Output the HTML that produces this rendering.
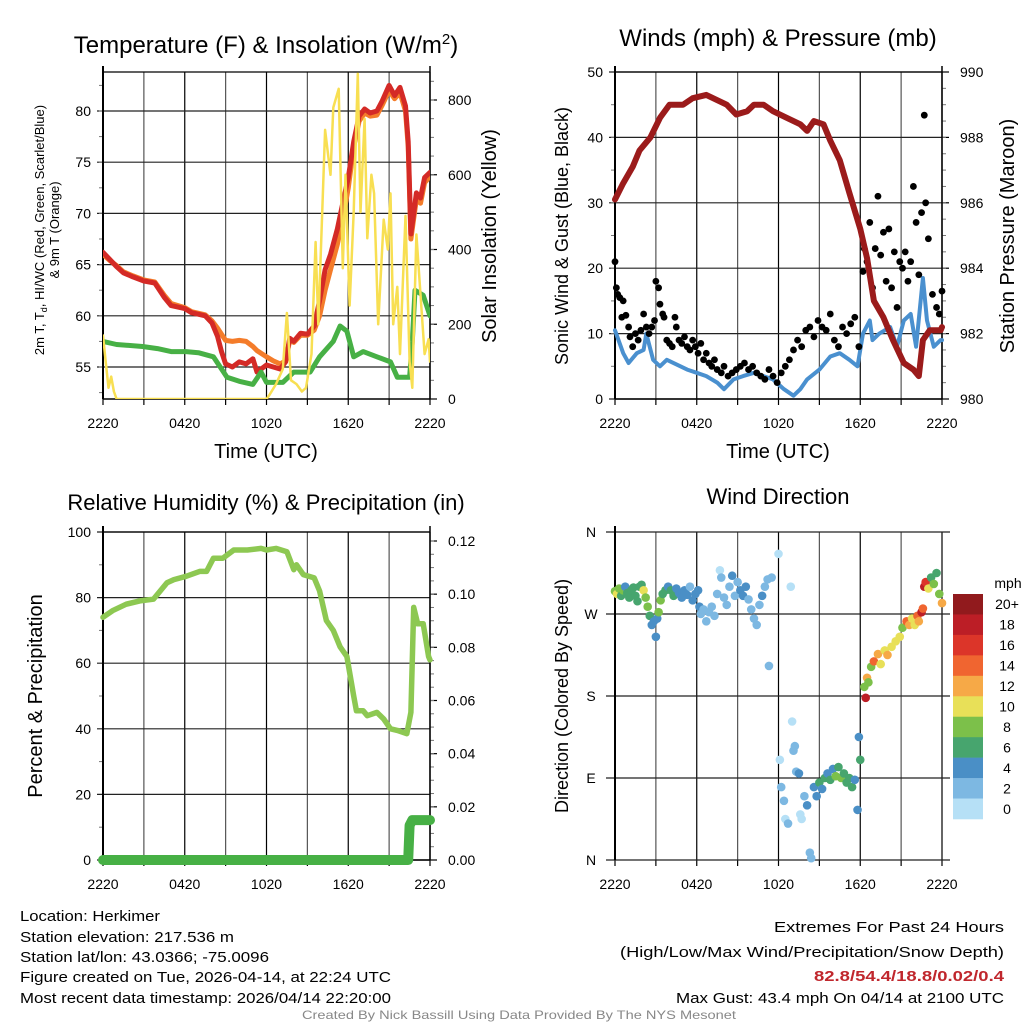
<!DOCTYPE html>
<html><head><meta charset="utf-8"><style>
html,body{margin:0;padding:0;background:#fff;}
svg{display:block;font-family:"Liberation Sans",Arial,sans-serif;}
</style></head><body>
<svg id="chart" width="1024" height="1024" viewBox="0 0 1024 1024" xmlns="http://www.w3.org/2000/svg">
<rect x="0" y="0" width="1024" height="1024" fill="#fff"/>
<g id="layer"></g>
<g font-size="15" fill="#000">
<text x="20" y="921" textLength="140" lengthAdjust="spacingAndGlyphs">Location: Herkimer</text>
<text x="20" y="942" textLength="214" lengthAdjust="spacingAndGlyphs">Station elevation: 217.536 m</text>
<text x="20" y="962" textLength="249" lengthAdjust="spacingAndGlyphs">Station lat/lon: 43.0366; -75.0096</text>
<text x="20" y="982" textLength="371" lengthAdjust="spacingAndGlyphs">Figure created on Tue, 2026-04-14, at 22:24 UTC</text>
<text x="20" y="1003" textLength="371" lengthAdjust="spacingAndGlyphs">Most recent data timestamp: 2026/04/14 22:20:00</text>
</g>
<g font-size="15" text-anchor="end">
<text x="1004" y="932" textLength="230" lengthAdjust="spacingAndGlyphs">Extremes For Past 24 Hours</text>
<text x="1004" y="957" textLength="384" lengthAdjust="spacingAndGlyphs">(High/Low/Max Wind/Precipitation/Snow Depth)</text>
<text x="1004" y="981" fill="#c0272d" font-weight="bold" textLength="190" lengthAdjust="spacingAndGlyphs">82.8/54.4/18.8/0.02/0.4</text>
<text x="1004" y="1003" textLength="328" lengthAdjust="spacingAndGlyphs">Max Gust: 43.4 mph On 04/14 at 2100 UTC</text>
</g>
<text x="519" y="1019" text-anchor="middle" font-size="12" fill="#888" textLength="434" lengthAdjust="spacingAndGlyphs">Created By Nick Bassill Using Data Provided By The NYS Mesonet</text>
</svg>
<script>
// ---------- data (hours since 22:20 UTC) ----------
const xTickLabels = ["2220","0420","1020","1620","2220"];
const tempHours = [0,0.5,1,1.5,2.2,3,3.8,4.5,5,6,6.5,7.5,8,8.4,8.7,9,9.5,10,10.5,11,11.3,12,12.5,13,13.4,13.7,14,14.5,15,15.5,15.9,16.3,16.7,17.2,17.6,18,18.4,18.8,19.2,19.6,20.1,20.5,21,21.4,21.8,22.2,22.4,22.6,22.8,23,23.3,23.6,24];
const tempF = [66.2,65.5,64.8,64.2,63.8,63.4,63.2,61.8,61,60.7,60.3,60,59.3,58,56.5,55.3,55,55.5,55.3,55.8,54.5,55.2,55,54.8,55.5,57.8,57.5,58.3,58.2,59,61.5,64.5,66,68.5,71,73.5,77,79.5,80.2,79.8,80,81,82.5,81.5,82.3,80.5,77,68,70,72,71.5,73.5,74];
const temp9mF = [66,65.4,64.9,64.3,63.9,63.5,63.3,62,61.2,60.8,60.4,60.1,59.5,58.8,58.2,57.6,57.5,57.6,57.5,57,56.6,56,55.6,55.3,55.6,57.6,57.4,58.1,58.1,58.6,60,62.5,64.5,67,69.5,72.5,76.5,79,79.8,79.5,79.6,80.6,82,81.2,81.8,80,76.5,67.5,69.5,71.4,71,73,73.6];
const dewHours = [0,1,2.9,4,5,6.1,7,8.1,9.1,10,11,11.6,12,13.2,14,15.2,15.9,16.9,17.4,17.9,18.4,19.1,20.1,21.1,21.6,22.5,22.7,22.9,23.5,24];
const dewF = [57.5,57.2,57,56.8,56.5,56.5,56.4,56,54,53.6,53.3,54.5,53.5,53.5,54.5,54.5,56,57.5,59,58.5,56,56.5,56,55.5,54,54,57.5,62.5,62,60];
const solarHours = [0,0.2,0.4,0.6,0.8,1.0,12,12.2,12.7,13.2,13.5,13.8,14.2,14.6,14.9,15.3,15.6,15.8,16.3,16.7,16.9,17.3,17.6,17.8,18.1,18.4,18.7,18.9,19.2,19.4,19.7,19.9,20.2,20.6,20.9,21.1,21.3,21.6,21.8,22.2,22.5,22.7,23.0,23.3,23.6,23.9,24];
const solarWm2 = [170,100,30,60,20,0,0,10,40,80,230,50,40,20,30,120,420,200,720,600,780,830,350,600,250,500,870,500,750,430,600,550,200,480,400,550,200,300,120,490,100,30,440,280,120,160,100];
const pressHours = [0,0.6,1.3,1.8,2.6,3.3,4.0,5.0,5.7,6.7,7.7,8.2,8.9,9.7,10.2,10.9,11.6,12.6,13.6,14.1,14.6,15.3,15.8,16.5,17.2,18.0,18.5,19.0,19.7,20.4,21.2,21.9,22.3,22.6,23.1,23.9,24];
const pressMb = [986.1,986.6,987.1,987.6,988.0,988.6,989.0,989.0,989.2,989.3,989.1,989.0,988.7,988.8,989.0,989.0,988.8,988.6,988.4,988.2,988.5,988.4,987.9,987.3,986.3,985.2,984.3,983.0,982.5,981.8,981.1,980.9,980.7,981.8,982.1,982.1,982.2];
const windHours = [0,0.6,1.0,1.6,2.1,2.3,2.8,3.3,3.8,4.8,5.3,6.0,6.7,7.5,8.0,8.7,9.4,10.2,10.9,11.6,12.4,13.1,13.6,14.1,15.0,15.8,16.5,17.2,17.8,18.2,18.7,18.9,19.4,20.2,20.7,21.2,21.7,22.1,22.6,22.9,23.4,23.9,24];
const windMph = [10.5,7,5.5,7,7.5,10,6,5,6,5,4.5,4,3.5,2.5,1.5,3,3.5,4,3.5,3,1.5,0.5,1.5,3,4.5,6.5,7,6,5,10,12,9,10,11,8,12,13,8,18.5,12,8,9,9];
const gustHours = [0,0.1,0.2,0.35,0.5,0.6,0.8,1.0,1.1,1.3,1.5,1.7,1.9,2.1,2.3,2.5,2.7,2.9,3.0,3.2,3.3,3.5,3.6,3.8,4.0,4.2,4.4,4.5,4.7,4.9,5.1,5.3,5.5,5.7,5.9,6.1,6.3,6.5,6.7,6.9,7.1,7.3,7.5,7.8,8.0,8.3,8.6,8.9,9.2,9.5,9.8,10.1,10.4,10.7,11.0,11.3,11.6,11.9,12.2,12.5,12.8,13.1,13.4,13.7,14.0,14.3,14.6,14.9,15.2,15.5,15.8,16.1,16.4,16.7,17.0,17.3,17.6,17.9,18.2,18.3,18.5,18.7,18.9,19.1,19.3,19.5,19.7,19.9,20.1,20.3,20.5,20.7,20.9,21.1,21.3,21.5,21.7,21.9,22.1,22.3,22.5,22.7,22.8,23.0,23.3,23.6,23.8,24];
const gustMph = [21,17,16,15.5,12.5,15,12.8,11,9.5,8,10,9,10.5,13,11,10,11,12,18,17,14.5,13,12.5,9,8.5,8,12.5,11,9,8.5,9.5,8,7.5,9,8,7,8.5,6,7,5.5,5,6,4.5,4,5,3.5,4,4.5,5,5.5,4.5,5,4,3.5,3,4.5,3.5,2.5,4,5,6,7.5,9,8,10.5,11,9.5,12,11,10.5,13,9,8,11,10,11.5,12.5,8,19.5,23,21,27,17,23,31,22,25.5,18,26,17,22.5,14,21,20,22.5,18,21,32.5,27,19,28.5,43.4,30,24.5,16,14,13,16.5,16,23.5];
const rhHours = [0,0.7,1.7,2.7,3.7,4.7,5.2,6.1,7.1,7.6,8.1,8.8,9.6,10.6,11.6,12.0,12.7,13.5,14.0,14.2,14.7,15.5,15.9,16.4,16.9,17.4,17.9,18.4,18.6,19.1,19.4,20.1,20.6,21.1,21.6,22.3,22.6,22.8,23.1,23.5,23.9,24];
const rhPct = [74,76,78,79,79.5,84.5,85.5,86.5,88,88,92,92,94.5,94.5,95,94.5,95,94,88.5,90,87,86,82,73,70,65,62,50,45.5,45.5,44,45,43,40,39.5,38.5,45,77,72,72,62,61];
const precipHours = [0,22.4,22.5,22.7,24];
const precipIn = [0,0,0.013,0.015,0.015];
const dirHours = [0.0,0.15,0.3,0.45,0.6,0.75,0.9,1.05,1.2,1.35,1.5,1.65,1.8,1.95,2.1,2.25,2.4,2.55,2.7,2.85,3.0,3.1,3.2,3.35,3.5,3.7,3.9,4.1,4.3,4.5,4.7,4.9,5.1,5.3,5.5,5.7,5.9,6.1,6.2,6.3,6.5,6.7,6.9,7.1,7.3,7.5,7.7,7.8,8.0,8.2,8.4,8.6,8.8,9.0,9.2,9.4,9.6,9.8,10.0,10.2,10.4,10.6,10.8,11.0,11.2,11.3,11.5,12.0,12.1,12.2,12.4,12.5,12.7,12.9,13.0,13.1,13.2,13.3,13.5,13.6,13.7,13.9,14.1,14.3,14.4,14.6,14.8,15.0,15.2,15.4,15.6,15.8,16.0,16.2,16.4,16.6,16.8,17.0,17.2,17.4,17.6,17.8,17.9,18.0,18.3,18.4,18.5,18.6,18.8,19.0,19.3,19.5,19.8,20.0,20.3,20.6,20.9,21.1,21.4,21.6,21.8,22.0,22.2,22.3,22.5,22.6,22.7,22.8,23.0,23.2,23.4,23.6,23.8,24.0];
const dirDeg = [295,292,298,290,296,300,293,288,296,299,290,284,300,302,296,288,278,268,258,262,245,265,272,285,292,296,300,296,290,298,293,288,296,291,300,285,292,296,278,270,275,262,272,278,268,292,318,310,288,280,300,312,290,305,296,290,300,286,275,265,258,280,290,300,308,213,310,336,110,80,65,45,40,300,152,120,125,97,95,50,45,70,60,8,2,80,70,85,78,90,95,88,100,92,102,90,95,85,90,80,88,55,135,110,190,178,200,195,212,218,226,215,230,225,234,240,245,255,262,258,265,258,268,262,272,276,300,305,298,310,303,315,292,282];
const dirSpeed = [9,10,9,7,8,5,6,7,6,6,6,7,6,7,10,8,8,6,4,4,4,4,8,8,6,7,4,6,6,4,4,4,4,4,3,4,4,4,4,3,3,3,3,3,2,3,1,2,3,3,3,4,2,3,4,4,4,3,3,2,2,3,4,3,3,2,2,1,1,2,2,1,3,1,1,3,2,3,4,1,1,3,4,3,2,5,4,6,5,6,4,6,4,8,6,8,6,6,6,6,4,4,4,6,8,18,12,8,8,14,13,10,11,13,10,10,11,8,14,12,10,10,15,12,18,14,18,17,10,7,8,6,8,12];
const cbarLabels = ["20+","18","16","14","12","10","8","6","4","2","0"];
const cbarColors = ["#911a1d","#bc1e26","#dc3529","#f06530","#f6a947","#e8e058","#7cc04a","#47a56e","#4a8fc6","#7db8e2","#b6e0f6"];

// ---------- helpers ----------
const NS = "http://www.w3.org/2000/svg";
const layer = document.getElementById("layer");
function mk(tag, attrs, parent) {
  const e = document.createElementNS(NS, tag);
  for (const k in attrs) e.setAttribute(k, attrs[k]);
  (parent || layer).appendChild(e);
  return e;
}
function lin(d0, d1, r0, r1) { return v => r0 + (v - d0) / (d1 - d0) * (r1 - r0); }
function txt(x, y, s, size, anchor, parent, extra) {
  const t = mk("text", Object.assign({x: x, y: y, "font-size": size, "text-anchor": anchor || "middle", fill: "#000"}, extra || {}), parent);
  t.textContent = s;
  return t;
}
function polyline(xs, ys, sx, sy, color, w, parent) {
  let d = "";
  for (let i = 0; i < xs.length; i++) d += (i ? "L" : "M") + sx(xs[i]).toFixed(1) + "," + sy(ys[i]).toFixed(1);
  return mk("path", {d: d, fill: "none", stroke: color, "stroke-width": w, "stroke-linejoin": "round", "stroke-linecap": "round"}, parent);
}

function panelFrame(g, P, leftTicks, leftMinor, sy, rightTicks, rightMinor, syR, leftFmt, rightFmt, hGrid) {
  const sx = lin(0, 24, P.x0, P.x1);
  for (let h = 0; h <= 24; h += 3) {
    const x = sx(h);
    const gl = mk("line", {x1: x, y1: P.y0, x2: x, y2: P.y1, stroke: (h % 6 === 0) ? "#000" : "#555", "stroke-width": 1.2}, g);
    
    
    mk("line", {x1: x, y1: P.y1, x2: x, y2: P.y1 + 6, stroke: "#000", "stroke-width": 1.2}, g);
  }
  xTickLabels.forEach((s, i) => {
    const t = txt(sx(i * 6), P.y1 + 29, s, 14, "middle", g);
    
    
  });
  leftTicks.forEach(v => {
    const y = sy(v);
    if (hGrid) {
      const gl = mk("line", {x1: P.x0 - 6, y1: y, x2: P.x1, y2: y, stroke: "#222", "stroke-width": 1.2}, g);
      
      
    }
    const t = txt(P.x0 - 12, y + 5, leftFmt(v), 14, "end", g);
    
    
  });
  leftMinor.forEach(v => mk("line", {x1: P.x0 - 4, y1: sy(v), x2: P.x0, y2: sy(v), stroke: "#777", "stroke-width": 1}, g));
  if (rightTicks) {
    rightTicks.forEach(v => {
      const y = syR(v);
      mk("line", {x1: P.x1, y1: y, x2: P.x1 + 7, y2: y, stroke: "#000", "stroke-width": 1.2}, g);
      const t = txt(P.x1 + 18, y + 5, rightFmt(v), 14, "start", g);
      
      
    });
    rightMinor.forEach(v => mk("line", {x1: P.x1, y1: syR(v), x2: P.x1 + 4, y2: syR(v), stroke: "#777", "stroke-width": 1}, g));
  }
  mk("line", {x1: P.x0, y1: P.y0 - 6, x2: P.x0, y2: P.y1, stroke: "#000", "stroke-width": 2}, g);
  mk("line", {x1: P.x1, y1: P.y0 - 6, x2: P.x1, y2: P.y1, stroke: "#000", "stroke-width": 1.5}, g);
  mk("line", {x1: P.x0, y1: P.y1, x2: P.x1, y2: P.y1, stroke: "#000", "stroke-width": 1.5}, g);
  mk("line", {x1: P.x0, y1: P.y0, x2: P.x1, y2: P.y0, stroke: "#000", "stroke-width": 1.2}, g);
  return sx;
}
function range(a, b, s) { const r = []; for (let v = a; v <= b + 1e-9; v += s) r.push(+v.toFixed(4)); return r; }

// ---------- Panel 1: temperature ----------
{
  const P = {x0: 103, x1: 430, y0: 72, y1: 399};
  const g = mk("g", {});
  
  
  const sy = lin(55, 80, 367, 111);
  const syR = lin(0, 800, 399, 100);
  const sx = panelFrame(g, P, [55,60,65,70,75,80], range(52.5, 82.5, 2.5), sy, [0,200,400,600,800], range(50, 850, 50), syR, v => v, v => v, true);
  const clip = mk("clipPath", {id: "c1"}, g); mk("rect", {x: P.x0, y: P.y0, width: P.x1 - P.x0, height: P.y1 - P.y0}, clip);
  const dg = mk("g", {"clip-path": "url(#c1)"}, g);
  const l1 = polyline(tempHours, temp9mF, sx, sy, "#f47c2a", 5, dg);
  
  
  const l2 = polyline(tempHours, tempF, sx, sy, "#d42a26", 5, dg);
  
  
  const l3 = polyline(dewHours, dewF, sx, sy, "#47b045", 5, dg);
  
  
  const l4 = polyline(solarHours, solarWm2, sx, syR, "#f8df52", 2.5, dg);
  
  
  const t = mk("text", {x: 266, y: 53, "font-size": 24, "text-anchor": "middle"}, g);
  
  
  t.innerHTML = 'Temperature (F) &amp; Insolation (W/m<tspan dy="-9" font-size="15">2</tspan><tspan dy="9">)</tspan>';
  const a1 = mk("text", {x: 0, y: 0, "font-size": 13, "text-anchor": "middle", transform: "translate(44,230) rotate(-90)"}, g);
  
  
  a1.innerHTML = '2m T, T<tspan dy="3" font-size="9">d</tspan><tspan dy="-3">, HI/WC (Red, Green, Scarlet/Blue)</tspan>';
  const a2 = txt(0, 0, "& 9m T (Orange)", 13, "middle", g, {transform: "translate(59,230) rotate(-90)"});
  
  
  const a3 = txt(0, 0, "Solar Insolation (Yellow)", 20, "middle", g, {transform: "translate(496,236) rotate(-90)"});
  
  
  const a4 = txt(266, 458, "Time (UTC)", 20, "middle", g);
  
  
}

// ---------- Panel 2: winds & pressure ----------
{
  const P = {x0: 615, x1: 942, y0: 72, y1: 399};
  const g = mk("g", {});
  
  
  const sy = lin(0, 50, 399, 72);
  const syR = lin(980, 990, 399, 72);
  const sx = panelFrame(g, P, [0,10,20,30,40,50], range(5, 45, 5), sy, [980,982,984,986,988,990], range(980.5, 989.5, 0.5), syR, v => v, v => v, true);
  const clip = mk("clipPath", {id: "c2"}, g); mk("rect", {x: P.x0 - 4, y: P.y0, width: P.x1 - P.x0 + 8, height: P.y1 - P.y0}, clip);
  const dg = mk("g", {"clip-path": "url(#c2)"}, g);
  const w = polyline(windHours, windMph, sx, sy, "#4a90cf", 4, dg);
  
  
  const gg = mk("g", {}, dg);
  
  
  for (let i = 0; i < gustHours.length; i++) {
    const c = mk("circle", {cx: sx(gustHours[i]), cy: sy(gustMph[i]), r: 3.4, fill: "#000"}, gg);
    
    
  }
  const p = polyline(pressHours, pressMb, sx, syR, "#9b1b1b", 6, dg);
  
  
  const t = txt(778, 46, "Winds (mph) & Pressure (mb)", 24, "middle", g);
  
  
  const a1 = txt(0, 0, "Sonic Wind & Gust (Blue, Black)", 18, "middle", g, {transform: "translate(568,236) rotate(-90)"});
  
  
  const a2 = txt(0, 0, "Station Pressure (Maroon)", 20, "middle", g, {transform: "translate(1014,236) rotate(-90)"});
  
  
  const a3 = txt(778, 458, "Time (UTC)", 20, "middle", g);
  
  
}

// ---------- Panel 3: RH & precipitation ----------
{
  const P = {x0: 103, x1: 430, y0: 532, y1: 860};
  const g = mk("g", {});
  
  
  const sy = lin(0, 100, 860, 532);
  const syR = lin(0, 0.12, 860, 541);
  const sx = panelFrame(g, P, [0,20,40,60,80,100], range(10, 90, 20), sy, [0,0.02,0.04,0.06,0.08,0.10,0.12], range(0.005, 0.12, 0.005), syR, v => v, v => v.toFixed(2), true);
  const clip = mk("clipPath", {id: "c3"}, g); mk("rect", {x: P.x0 - 10, y: P.y0, width: P.x1 - P.x0 + 20, height: P.y1 - P.y0 + 10}, clip);
  const dg = mk("g", {"clip-path": "url(#c3)"}, g);
  const pr = polyline(precipHours, precipIn, sx, syR, "#47b045", 10, dg);
  
  
  const rh = polyline(rhHours, rhPct, sx, sy, "#8dc852", 5.5, dg);
  
  
  const t = txt(266, 510, "Relative Humidity (%) & Precipitation (in)", 22, "middle", g);
  
  
  const a1 = txt(0, 0, "Percent & Precipitation", 20, "middle", g, {transform: "translate(42,696) rotate(-90)"});
  
  
}

// ---------- Panel 4: wind direction ----------
{
  const P = {x0: 615, x1: 942, y0: 532, y1: 860};
  const g = mk("g", {});
  
  
  const sy = lin(0, 360, 860, 532);
  const dirLabels = ["N","E","S","W","N"];
  const sx = lin(0, 24, P.x0, P.x1);
  for (let h = 0; h <= 24; h += 3) {
    const gl = mk("line", {x1: sx(h), y1: P.y0, x2: sx(h), y2: P.y1, stroke: (h % 6 === 0) ? "#000" : "#555", "stroke-width": 1.2}, g);
    
    
    mk("line", {x1: sx(h), y1: P.y1, x2: sx(h), y2: P.y1 + 6, stroke: "#000", "stroke-width": 1.2}, g);
  }
  xTickLabels.forEach((s, i) => {
    const t = txt(sx(i * 6), P.y1 + 29, s, 14, "middle", g);
    
    
  });
  dirLabels.forEach((s, i) => {
    const y = sy(i * 90);
    const gl = mk("line", {x1: P.x0 - 9, y1: y, x2: P.x1 + 8, y2: y, stroke: "#222", "stroke-width": 1.2}, g);
    
    
    const t = txt(P.x0 - 24, y + 5, s, 14, "middle", g);
    
    
  });
  mk("line", {x1: P.x0, y1: P.y0 - 6, x2: P.x0, y2: P.y1, stroke: "#000", "stroke-width": 2}, g);
  const dg = mk("g", {}, g);
  
  
  for (let i = 0; i < dirHours.length; i++) {
    const bin = Math.min(10, Math.floor(dirSpeed[i] / 2));
    const c = mk("circle", {cx: sx(dirHours[i]), cy: sy(dirDeg[i]), r: 4.3, fill: cbarColors[10 - bin]}, dg);
    
    
  }
  const t = txt(778, 504, "Wind Direction", 22, "middle", g);
  
  
  const a1 = txt(0, 0, "Direction (Colored By Speed)", 18, "middle", g, {transform: "translate(568,696) rotate(-90)"});
  
  
  const cb = mk("g", {}, g);
  
  
  const bh = (819 - 594) / cbarColors.length;
  cbarColors.forEach((col, i) => {
    const r = mk("rect", {x: 953, y: 594 + i * bh, width: 30, height: bh + 0.3, fill: col}, cb);
    
    
    const l = txt(1007, 594 + i * bh + bh / 2 + 5, cbarLabels[i], 14, "middle", cb);
    
    
  });
  const u = txt(1008, 588, "mph", 14, "middle", cb);
  
  
}
</script>
</body></html>
